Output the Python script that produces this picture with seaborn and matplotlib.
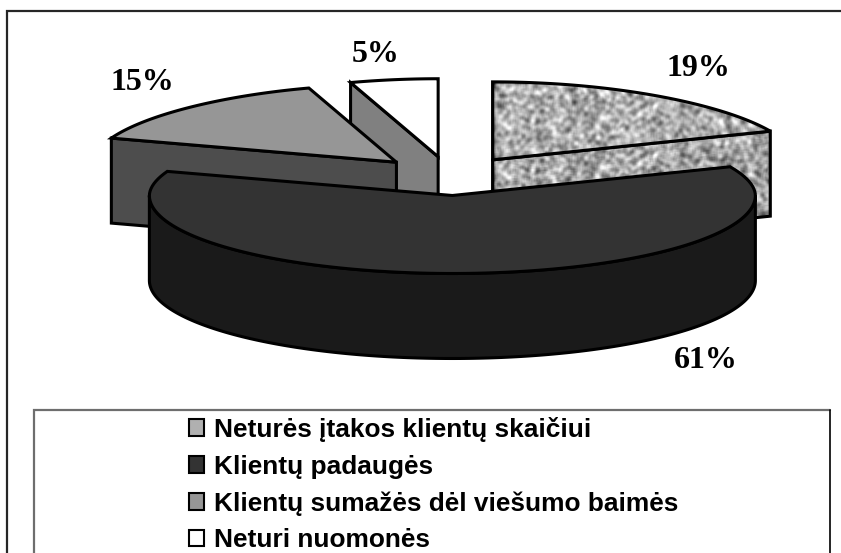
#!/usr/bin/env python3
"""Exploded 3D-look pie chart of expected client numbers."""

import matplotlib
matplotlib.use("Agg")

import matplotlib.pyplot as plt
import numpy as np
import seaborn as sns
from matplotlib.patches import Patch, Polygon

categories = [
    "Neturės įtakos klientų skaičiui",
    "Klientų padaugės",
    "Klientų sumažės dėl viešumo baimės",
    "Neturi nuomonės",
]
shares = [19, 61, 15, 5]
share_labels = ["19%", "61%", "15%", "5%"]

top_colors = ["#b4b4b4", "#333333", "#969696", "#ffffff"]
side_colors = ["#a8a8a8", "#1a1a1a", "#4d4d4d", "#808080"]

# Pie layout in image pixels.
CX, CY = 450, 176
RX, RY = 303, 78
DEPTH = 85
EXPLODE = 0.25
LABEL_POS = [(698, 69), (706, 361), (142, 82), (376, 55)]


def rim_point(deg, ox, oy):
    # Clockwise from 12 o'clock, the back of the ellipse is a bit narrower.
    t = np.radians(deg)
    narrow = 1 - 0.07 * np.maximum(np.cos(t), 0) ** 1.6
    return ox + RX * narrow * np.sin(t), oy - RY * np.cos(t)


def granite(width, height):
    # Deterministic hash noise, blurred into blotches.
    yy, xx = np.mgrid[0:height, 0:width]
    raw = np.sin(xx * 12.9898 + yy * 78.233) * 43758.5453
    raw = raw - np.floor(raw)
    kernel = np.array([1, 2, 3, 4, 3, 2, 1], dtype=float)
    kernel /= kernel.sum()
    raw = np.apply_along_axis(np.convolve, 0, raw, kernel, mode="same")
    raw = np.apply_along_axis(np.convolve, 1, raw, kernel, mode="same")
    return (raw - raw.mean()) / raw.std()


def textured(ax, verts, level):
    xs, ys = zip(*verts)
    x0, x1, y0, y1 = min(xs), max(xs), min(ys), max(ys)
    tex = granite(int(x1 - x0) + 1, int(y1 - y0) + 1) * 36 + level
    im = ax.imshow(tex, cmap="gray", vmin=0, vmax=255, extent=(x0, x1, y1, y0),
                   aspect="auto", interpolation="bilinear", zorder=ax.zorder_next)
    patch = Polygon(verts, closed=True, facecolor="none", edgecolor="black", lw=2.2,
                    joinstyle="miter", zorder=ax.zorder_next + 0.5)
    ax.add_patch(patch)
    im.set_clip_path(patch)
    ax.zorder_next += 1


def flat(ax, verts, color):
    ax.add_patch(Polygon(verts, closed=True, facecolor=color, edgecolor="black", lw=2.2,
                         joinstyle="miter", zorder=ax.zorder_next))
    ax.zorder_next += 1


sns.set_theme(style="white")
plt.rcParams["font.family"] = ["Liberation Sans", "DejaVu Sans"]

fig = plt.figure(figsize=(8.41, 5.53), dpi=100)
ax = fig.add_axes([0, 0, 1, 1])
ax.set_xlim(0, 841)
ax.set_ylim(553, 0)
ax.set_axis_off()
ax.zorder_next = 2

# Slice angles and exploded apex positions from the shares.
total = sum(shares)
edges = np.cumsum([0] + shares) / total * 360
slices = []
for i in range(len(shares)):
    start, end = edges[i], edges[i + 1]
    mid = np.radians((start + end) / 2)
    ox = CX + EXPLODE * RX * np.sin(mid)
    oy = CY - EXPLODE * RY * np.cos(mid)
    arc = [rim_point(d, ox, oy) for d in np.linspace(start, end, 120)]
    slices.append({"ox": ox, "oy": oy, "arc": arc, "start": start, "end": end})


def down(points):
    return [(x, y + DEPTH) for x, y in points]


# Back to front: no opinion, decrease, no effect, increase.
s = slices[3]
apex = (s["ox"], s["oy"])
flat(ax, [s["arc"][0], apex] + down([apex, s["arc"][0]]), side_colors[3])
flat(ax, [apex] + s["arc"], top_colors[3])

s = slices[2]
apex = (s["ox"], s["oy"])
flat(ax, [s["arc"][0], apex] + down([apex, s["arc"][0]]), side_colors[2])
flat(ax, [apex] + s["arc"], top_colors[2])

s = slices[0]
apex = (s["ox"], s["oy"])
textured(ax, [apex, s["arc"][-1]] + down([s["arc"][-1], apex]), 162)
textured(ax, [apex] + s["arc"], 168)

s = slices[1]
apex = (s["ox"], s["oy"])
front = [rim_point(d, s["ox"], s["oy"]) for d in np.linspace(90, 270, 200)]
flat(ax, front + down(front[::-1]), side_colors[1])
flat(ax, [apex] + s["arc"], top_colors[1])

for text, (x, y) in zip(share_labels, LABEL_POS):
    ax.text(x, y, text, ha="center", va="center", fontsize=23, fontweight="bold",
            family=["Liberation Serif"], color="black", zorder=40)

# Chart frame and legend box run off the bottom of the picture.
ax.plot([7.5, 7.5, 841], [553, 10.5, 10.5], color="#262626", lw=1.6, zorder=1,
        solid_joinstyle="miter")
ax.plot([34, 34, 830], [553, 409.5, 409.5], color="#6e6e6e", lw=1.6, zorder=1,
        solid_joinstyle="miter")
ax.plot([830, 830], [409.5, 553], color="black", lw=1.2, zorder=1)

handles = [Patch(facecolor=c, edgecolor="black", lw=1.5) for c in
           ["#b0b0b0", "#333333", "#969696", "#ffffff"]]
ax.legend(handles, categories, loc="upper left", bbox_to_anchor=(189, 417),
          bbox_transform=ax.transData, frameon=False, labelcolor="black",
          prop={"weight": "bold", "size": 18.9}, borderpad=0, borderaxespad=0,
          handlelength=0.59, handleheight=0.59, handletextpad=0.38, labelspacing=0.48)

plt.savefig("out.png", dpi=100)
